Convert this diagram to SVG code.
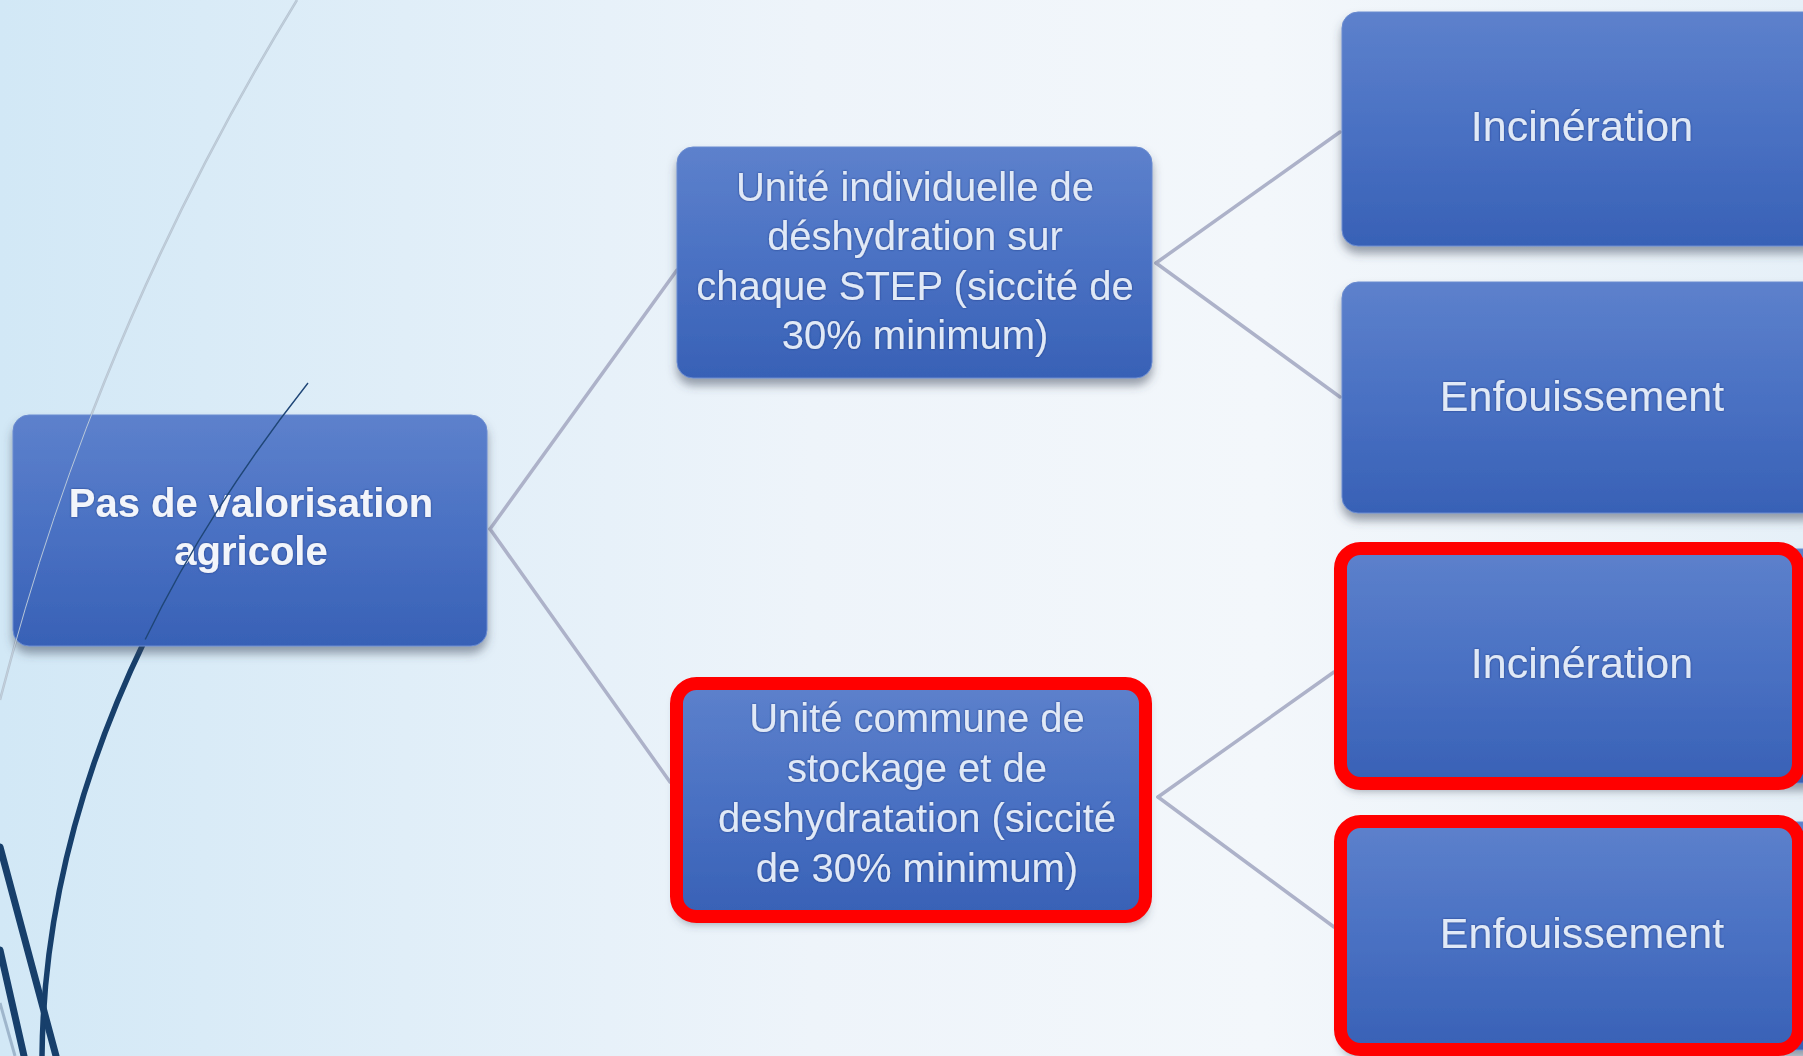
<svg xmlns="http://www.w3.org/2000/svg" width="1803" height="1056" viewBox="0 0 1803 1056">
  <defs>
    <linearGradient id="bg" x1="0" y1="0" x2="1" y2="0">
      <stop offset="0" stop-color="#d2e8f6"/>
      <stop offset="0.45" stop-color="#eef4fa"/>
      <stop offset="0.7" stop-color="#f3f7fb"/>
      <stop offset="1" stop-color="#e6f0f8"/>
    </linearGradient>
    <linearGradient id="boxFill" x1="0" y1="0" x2="0" y2="1">
      <stop offset="0" stop-color="#5d81cc"/>
      <stop offset="0.5" stop-color="#4a71c3"/>
      <stop offset="1" stop-color="#3861b6"/>
    </linearGradient>
    <filter id="shadow" x="-10%" y="-10%" width="120%" height="130%">
      <feDropShadow dx="0" dy="7" stdDeviation="5" flood-color="#3b4658" flood-opacity="0.5"/>
    </filter>
    <filter id="glow" x="-5%" y="-20%" width="110%" height="140%">
      <feDropShadow dx="0" dy="0" stdDeviation="1.3" flood-color="#1b3a85" flood-opacity="0.95"/>
    </filter>
  </defs>
  <style>
    .box { fill: url(#boxFill); stroke: #6a8bd0; stroke-width: 1; filter: url(#shadow); }
    .hl { fill: none; stroke: #ff0000; stroke-width: 13; }
    .conn { stroke: #adb2c9; stroke-width: 3.5; fill: none; stroke-linecap: round; }
    .t { font-family: "Liberation Sans", Arial, sans-serif; fill: #e0e9f7; text-anchor: middle; filter: url(#glow); }
    .tm { font-size: 40px; }
    .tr { font-size: 43px; }
    .tb { font-size: 40px; font-weight: bold; fill: #f2f5fb; }
    .navy { stroke: #173f6b; fill: none; stroke-linecap: round; }
  </style>

  <rect x="0" y="0" width="1803" height="1056" fill="url(#bg)"/>

  <g id="decor">
    <path d="M297,0 Q95,330 0,700" stroke="#b7c5d3" stroke-width="2.5" fill="none"/>
    <path class="navy" d="M145.2,639.5 C87.9,758 43.6,899.1 42,1056" stroke-width="5.5"/>
    <path class="navy" d="M0,847 L56,1056" stroke-width="7"/>
    <path class="navy" d="M0,950 L24,1056" stroke-width="7"/>
    <path d="M0,1003 L15,1056" stroke="#9fb6cc" stroke-width="3" fill="none"/>
  </g>

  <g id="connectors">
    <line class="conn" x1="490" y1="529" x2="677" y2="270"/>
    <line class="conn" x1="490" y1="529" x2="670" y2="782"/>
    <line class="conn" x1="1156" y1="263" x2="1340" y2="132"/>
    <line class="conn" x1="1156" y1="263" x2="1340" y2="397"/>
    <line class="conn" x1="1158" y1="797" x2="1334" y2="672"/>
    <line class="conn" x1="1158" y1="797" x2="1334" y2="927"/>
  </g>

  <g id="node-root">
    <rect class="box" x="13" y="415" width="474" height="231" rx="16"/>
    <text class="t tb" x="251" y="517">Pas de valorisation</text>
    <text class="t tb" x="251" y="565">agricole</text>
  </g>

  <g id="decor-overlay">
    <path d="M297,0 Q95,330 0,700" stroke="#c3d0dc" stroke-width="1" fill="none" opacity="0.9"/>
    <path d="M308,383 C257.2,447.4 196.1,534.5 145.2,639.5" stroke="#1f4677" stroke-width="1.4" fill="none"/>
  </g>

  <g id="node-individuelle">
    <rect class="box" x="677" y="147" width="475" height="231" rx="16"/>
    <text class="t tm" x="915" y="201">Unité individuelle de</text>
    <text class="t tm" x="915" y="250">déshydration sur</text>
    <text class="t tm" x="915" y="300">chaque STEP (siccité de</text>
    <text class="t tm" x="915" y="349">30% minimum)</text>
  </g>

  <g id="node-commune">
    <rect class="box" x="677" y="683" width="470" height="233" rx="16"/>
    <text class="t tm" x="917" y="732">Unité commune de</text>
    <text class="t tm" x="917" y="782">stockage et de</text>
    <text class="t tm" x="917" y="832">deshydratation (siccité</text>
    <text class="t tm" x="917" y="882">de 30% minimum)</text>
    <rect class="hl" x="676.5" y="683.5" width="469" height="233" rx="20"/>
  </g>

  <g id="node-incineration-1">
    <rect class="box" x="1342" y="12" width="478" height="234" rx="16"/>
    <text class="t tr" x="1582" y="141">Incinération</text>
  </g>

  <g id="node-enfouissement-1">
    <rect class="box" x="1342" y="282" width="478" height="231" rx="16"/>
    <text class="t tr" x="1582" y="411">Enfouissement</text>
  </g>

  <g id="node-incineration-2">
    <rect class="box" x="1342" y="549" width="478" height="234" rx="16"/>
    <text class="t tr" x="1582" y="678">Incinération</text>
    <rect class="hl" x="1340.5" y="548.5" width="458" height="235" rx="20"/>
  </g>

  <g id="node-enfouissement-2">
    <rect class="box" x="1342" y="822" width="478" height="228" rx="16"/>
    <text class="t tr" x="1582" y="948">Enfouissement</text>
    <rect class="hl" x="1340.5" y="821.5" width="458" height="228" rx="20"/>
  </g>
</svg>
